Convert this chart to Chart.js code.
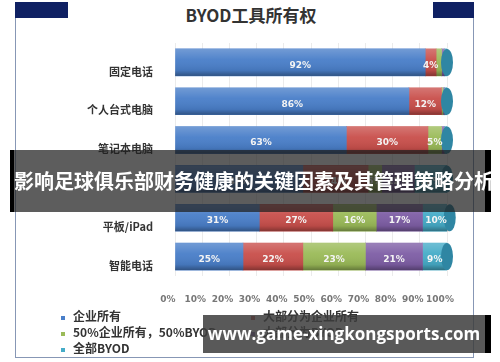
<!DOCTYPE html>
<html>
<head>
<meta charset="utf-8">
<script src="https://cdn.jsdelivr.net/npm/chart.js@4/dist/chart.umd.min.js"></script>
<style>
  body { margin: 0; background: #fff; font-family: "Noto Sans CJK SC", "Noto Sans", sans-serif; }
  #wrap { position: relative; width: 500px; height: 362px; overflow: hidden; }
  #frame { position: absolute; left: 15px; top: 2px; width: 457px; height: 355px;
           border-left: 1.5px solid #8797b5; border-right: 1.5px solid #8797b5; border-bottom: 1.5px solid #8797b5; }
  .corner { position: absolute; top: 2px; height: 16px; background: #0f2163; }
  #title { position: absolute; left: 0; width: 502px; top: 3px; text-align: center;
           font-size: 17px; font-weight: bold; color: #333; line-height: 24px; }
  #legend { position: absolute; left: 61px; top: 308px; display: grid;
            grid-template-columns: 190px 200px; font-size: 12px; font-weight: bold; color: #333; }
  #legend div { line-height: 16px; white-space: nowrap; }
  #legend span { display: inline-block; width: 4px; height: 4px; margin-right: 8px; vertical-align: middle; }
  #banner { position: absolute; left: 10px; top: 150px; width: 471px; height: 62px;
            background: rgba(30,30,30,0.72); border-left: 4px solid #000; border-right: 6px solid #000;
            color: #fff; font-size: 20px; font-weight: bold; line-height: 62px; text-align: center; white-space: nowrap; }
  #mark { position: absolute; left: 203px; top: 315px; width: 282px; height: 38px;
          background: rgba(60,60,60,0.85); border-right: 6px solid #000;
          color: #fff; font-family: "Open Sans", "DejaVu Sans", sans-serif; font-size: 17px; font-weight: bold;
          line-height: 38px; text-align: center; white-space: nowrap; }
</style>
</head>
<body>
<div id="wrap">
  <div id="frame"></div>
  <div class="corner" style="left:15px;width:53px"></div>
  <div class="corner" style="left:433px;width:41px"></div>
  <div id="title">BYOD工具所有权</div>
  <canvas id="chart" width="500" height="362" style="position:absolute;left:0;top:0"></canvas>
  <div id="legend"></div>
  <div id="banner">影响足球俱乐部财务健康的关键因素及其管理策略分析</div>
  <div id="mark">www.game-xingkongsports.com</div>
</div>
<script>
// categories (4th row is hidden under the banner)
const categories = ['固定电话', '个人台式电脑', '笔记本电脑', '', '平板/iPad', '智能电话'];

const seriesNames = ['企业所有', '大部分为企业所有', '50%企业所有，50%BYOD', '大部分为BYOD', '全部BYOD'];
const seriesColors = ['#4a7fc9', '#c9504c', '#9bbb59', '#7f5fa6', '#46acc8'];

const corpOwned  = [92, 86, 63, 47, 31, 25];
const mostlyCorp = [4, 12, 30, 24, 27, 22];
const halfHalf   = [2, 0.5, 5, 5, 16, 23];
const mostlyByod = [1, 0.5, 1, 12, 17, 21];
const allByod    = [1, 1, 1, 12, 10, 9];

const seriesValues = [corpOwned, mostlyCorp, halfHalf, mostlyByod, allByod];

// legend as html, 2 columns
const legendEl = document.getElementById('legend');
seriesNames.forEach((name, i) => {
    const d = document.createElement('div');
    d.innerHTML = '<span style="background:' + seriesColors[i] + '"></span>' + name;
    legendEl.appendChild(d);
});

// cylinder-ish shading + end cap + value labels
const barDecor = {
    id: 'barDecor',
    afterDatasetsDraw(chart) {
        const ctx = chart.ctx;
        const left = chart.chartArea.left;
        const last = chart.getDatasetMeta(chart.data.datasets.length - 1);
        last.data.forEach((el, j) => {
            const top = el.y - el.height / 2;
            const h = el.height;
            const g = ctx.createLinearGradient(0, top, 0, top + h);
            g.addColorStop(0, 'rgba(255,255,255,0.22)');
            g.addColorStop(0.4, 'rgba(255,255,255,0.04)');
            g.addColorStop(0.8, 'rgba(0,0,0,0.08)');
            g.addColorStop(1, 'rgba(0,0,0,0.35)');
            ctx.save();
            ctx.fillStyle = g;
            ctx.fillRect(left, top, el.x - left, h);
            ctx.beginPath();
            ctx.ellipse(el.x, el.y, 6, h / 2, 0, 0, Math.PI * 2);
            ctx.fillStyle = '#2f86a3';
            ctx.fill();
            ctx.restore();
        });

        ctx.save();
        ctx.font = 'bold 9px "DejaVu Sans", sans-serif';
        ctx.fillStyle = '#f4f4f4';
        ctx.textAlign = 'center';
        ctx.textBaseline = 'middle';
        chart.data.datasets.forEach((ds, i) => {
            chart.getDatasetMeta(i).data.forEach((el, j) => {
                const v = ds.data[j];
                if (v < 4) return;
                ctx.fillText(v + '%', (el.base + el.x) / 2, el.y + 3);
            });
        });
        ctx.restore();
    }
};

new Chart(document.getElementById('chart').getContext('2d'), {
    type: 'bar',
    data: {
        labels: categories,
        datasets: seriesValues.map((vals, i) => ({
            label: seriesNames[i],
            data: vals,
            backgroundColor: seriesColors[i],
            borderWidth: 0,
            barThickness: 27
        }))
    },
    options: {
        indexAxis: 'y',
        responsive: false,
        animation: false,
        layout: { padding: { top: 43, left: 15, right: 53, bottom: 56 } },
        plugins: {
            legend: { display: false },
            title: { display: false },
            tooltip: { enabled: false }
        },
        scales: {
            x: {
                stacked: true,
                min: 0,
                max: 100,
                afterFit: s => { s.height = 30; },
                border: { display: false },
                grid: { color: '#ebebeb', drawTicks: false },
                ticks: {
                    stepSize: 10,
                    padding: 18,
                    labelOffset: -7,
                    maxRotation: 0,
                    minRotation: 0,
                    autoSkip: false,
                    color: '#777',
                    font: { size: 9, weight: 'bold', family: '"DejaVu Sans", sans-serif' },
                    callback: v => v + '%'
                }
            },
            y: {
                stacked: true,
                afterFit: s => { s.width = 160; },
                border: { display: false },
                grid: { display: false, drawTicks: false },
                ticks: {
                    padding: 22,
                    labelOffset: 9,
                    color: '#333',
                    font: { size: 11, weight: 'bold', family: '"Noto Sans CJK SC", sans-serif' }
                }
            }
        }
    },
    plugins: [barDecor]
});
</script>
</body>
</html>
